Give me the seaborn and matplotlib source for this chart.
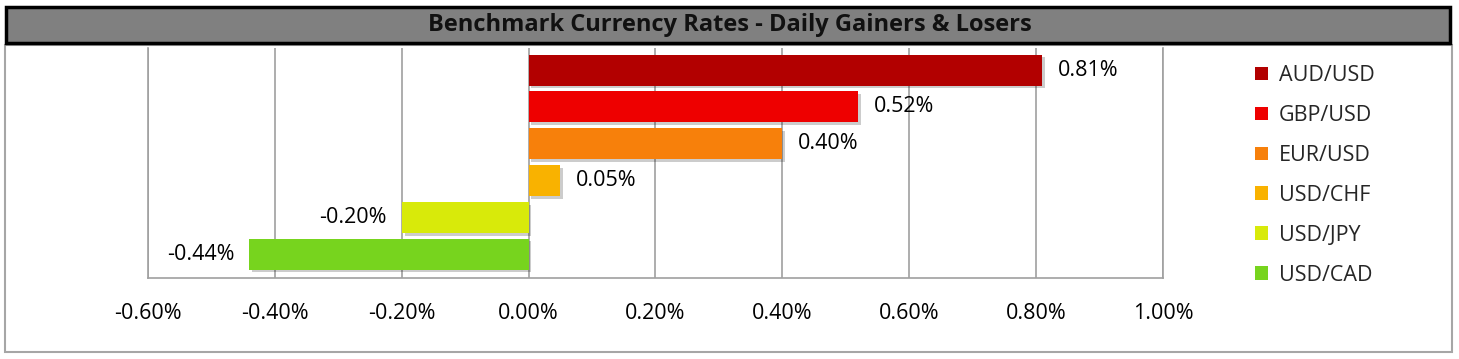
import matplotlib
matplotlib.use("Agg")
import matplotlib.pyplot as plt
import matplotlib.patches as mpatches
import matplotlib.patheffects as pe
import seaborn as sns
import pandas as pd

pairs = ["AUD/USD", "GBP/USD", "EUR/USD", "USD/CHF", "USD/JPY", "USD/CAD"]
changes = [0.81, 0.52, 0.40, 0.05, -0.20, -0.44]
colors = ["#B20000", "#EE0000", "#F7800B", "#F9B200", "#D8EA0A", "#77D41E"]
xticks = [-0.60, -0.40, -0.20, 0.00, 0.20, 0.40, 0.60, 0.80, 1.00]
title = "Benchmark Currency Rates - Daily Gainers & Losers"

sns.set_theme(style="white")
plt.rcParams["font.family"] = ["Open Sans", "DejaVu Sans"]

W, H = 1459, 359
fig = plt.figure(figsize=(W / 100, H / 100), dpi=100)

# outer panel
fig.patches.append(mpatches.Rectangle((5 / W, 7 / H), 1447 / W, (H - 52) / H,
                                      transform=fig.transFigure, facecolor="white",
                                      edgecolor="#A6A6A6", linewidth=1.5, zorder=-2))
# title bar
fig.patches.append(mpatches.Rectangle((6 / W, (H - 43) / H), 1444 / W, 36 / H,
                                      transform=fig.transFigure, facecolor="#808080",
                                      edgecolor="black", linewidth=2.5, zorder=-1))
fig.text(0.5, (H - 25) / H, title, ha="center", va="center", fontsize=17,
         fontweight="bold", color="#111111")

left, right, top, bottom = 148, 1163, 48, 278
ax = fig.add_axes([left / W, (H - bottom) / H, (right - left) / W, (bottom - top) / H])
ax.set_zorder(2)
ax.patch.set_alpha(0)

df = pd.DataFrame({"pair": pairs, "change": changes})
sns.barplot(data=df, y="pair", x="change", hue="pair", palette=colors,
            order=pairs, hue_order=pairs, dodge=False, legend=False,
            width=0.84, ax=ax, saturation=1, zorder=3)

for p in ax.patches:
    p.set_path_effects([pe.SimplePatchShadow(offset=(2, -2), alpha=0.2, shadow_rgbFace="black"), pe.Normal()])
    p.set_edgecolor("none")

ax.set_xlim(-0.6, 1.0)
ax.set_ylim(5.65, -0.6)
ax.set_xticks(xticks)
ax.set_xticklabels([f"{t:.2f}%" for t in xticks], fontsize=15.5, color="black")
ax.set_yticks([])
ax.set_xlabel("")
ax.set_ylabel("")
ax.tick_params(axis="x", length=0, pad=18)
ax.grid(axis="x", color="#A0A0A0", linewidth=1.2, zorder=0)
ax.set_axisbelow(True)
ax.spines["top"].set_visible(False)
for s in ["left", "bottom", "right"]:
    ax.spines[s].set_color("#A0A0A0")
    ax.spines[s].set_linewidth(1.2)

for i, v in enumerate(changes):
    if v >= 0:
        ax.text(v + 0.024, i, f"{v:.2f}%", ha="left", va="center", fontsize=15.5, color="black")
    else:
        ax.text(v - 0.024, i, f"{v:.2f}%", ha="right", va="center", fontsize=15.5, color="black")

handles = [mpatches.Patch(facecolor=c, edgecolor="none", label=l) for c, l in zip(colors, pairs)]
fig.legend(handles=handles, loc="upper left", bbox_to_anchor=(1240 / W, (H - 50) / H),
           frameon=False, fontsize=15.5, handlelength=0.6, handleheight=0.6,
           labelspacing=0.88, handletextpad=0.5, borderpad=0.2)

fig.savefig("out.png", dpi=100)
